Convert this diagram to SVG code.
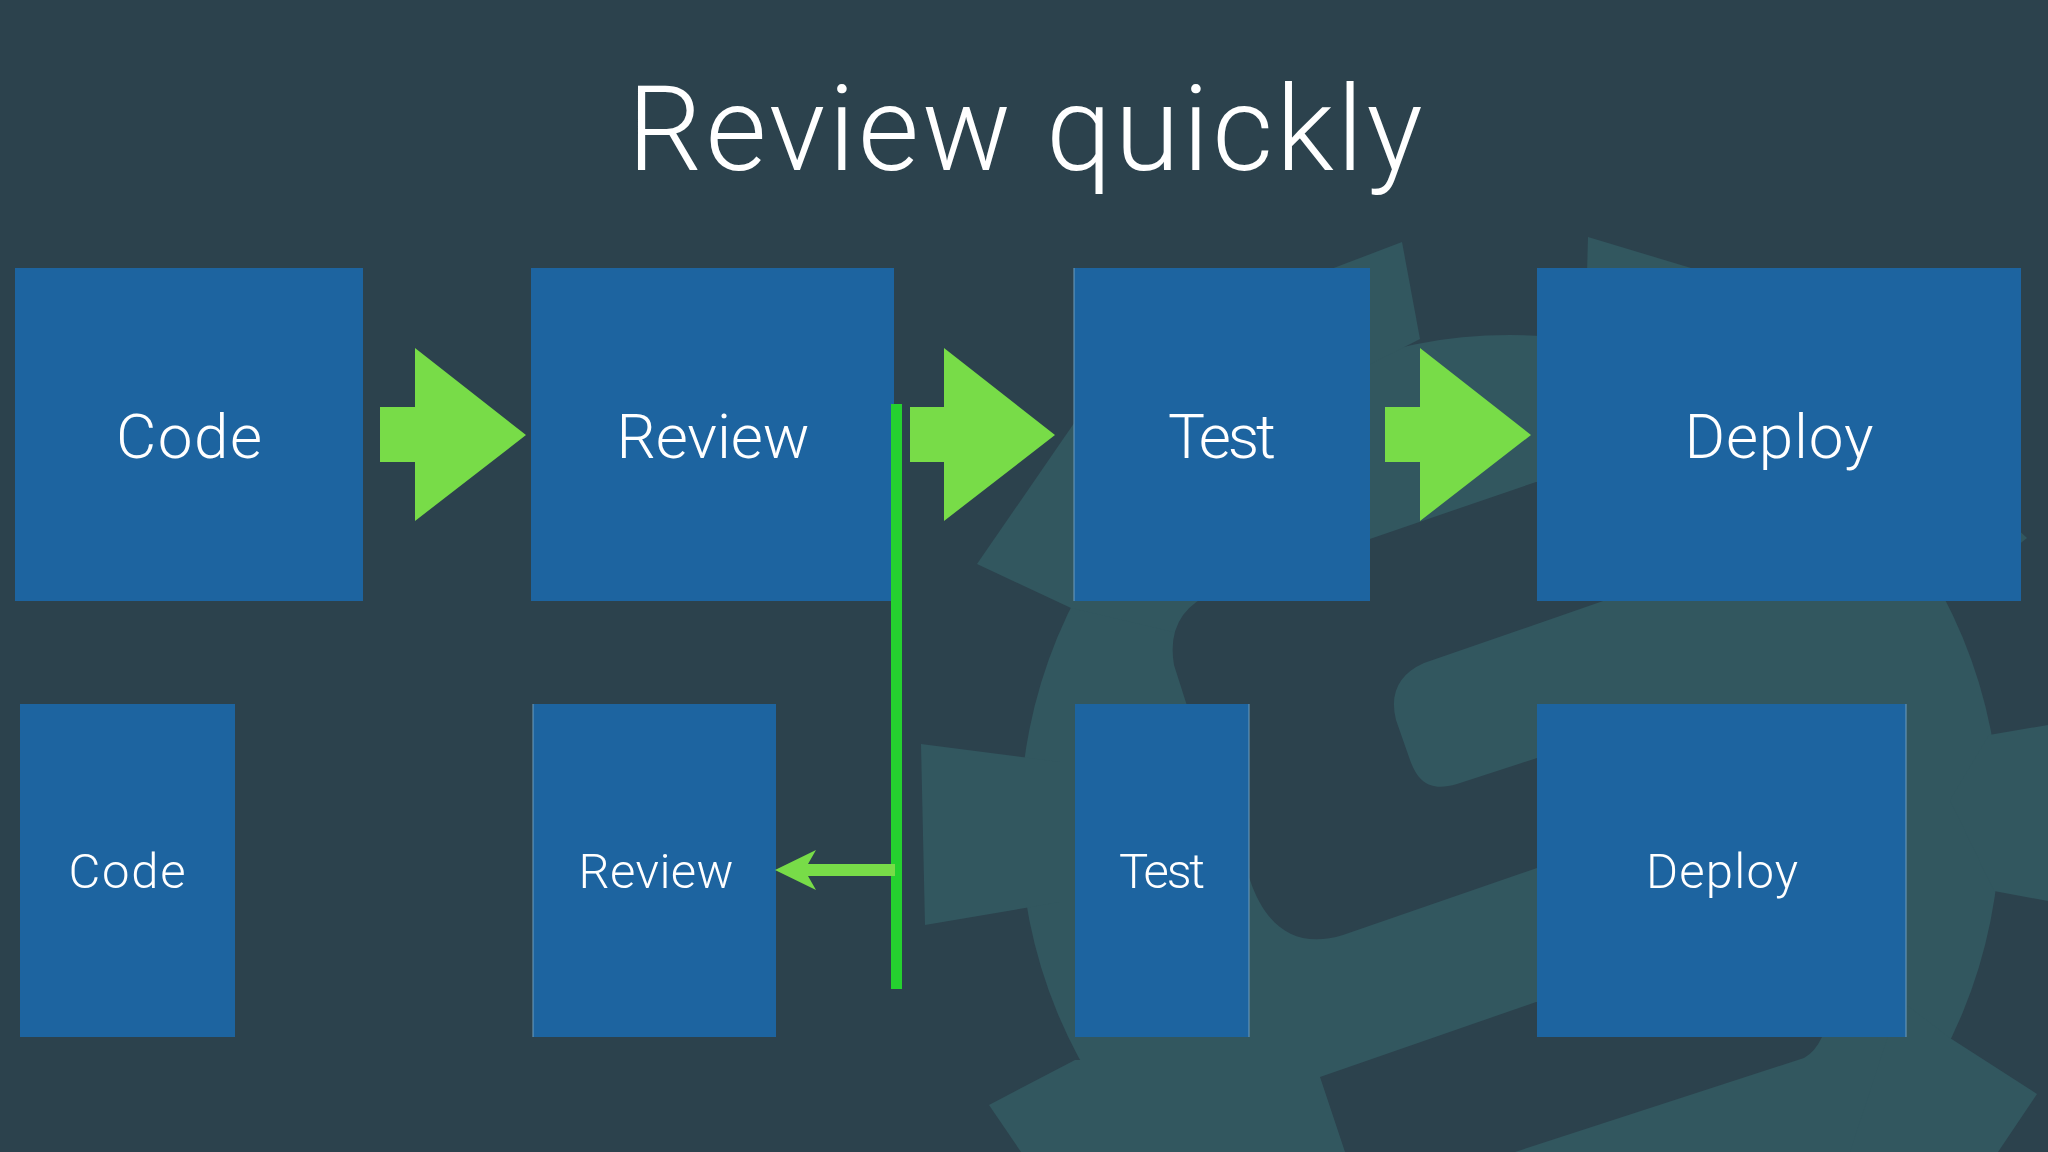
<svg xmlns="http://www.w3.org/2000/svg" width="2048" height="1152" viewBox="0 0 2048 1152">
<style>
.bg{fill:#2c424d}.gear{fill:#32575f}.hole{fill:#2c424d}
.box{fill:#1d64a0}
.arrow{fill:#78dc48}
.edge{stroke:#6f9dbd;stroke-width:1;fill:none}
text{font-family:"Roboto","Liberation Sans",sans-serif;font-weight:300;fill:#fff;text-anchor:middle}
.t1{font-size:62px}.t2{font-size:49px}
</style>
<rect class="bg" width="2048" height="1152"/>
<g id="gear-background">
<circle class="gear" cx="1510" cy="825" r="490"/>
<polygon class="gear" points="1402,242 1420,339 1300,400 1250,300"/>
<polygon class="gear" points="1588,237 1691,268 1800,340 1585,345"/>
<polygon class="gear" points="977,564 1090,400 1250,400 1250,650 1071,608"/>
<polygon class="gear" points="921,744 1060,762 1060,902 925,925"/>
<polygon class="gear" points="989,1105 1075,1060 1200,1060 1200,1152 1021,1152"/>
<polygon class="gear" points="1950,1038 2037,1094 1998,1152 1850,1152 1900,1000"/>
<polygon class="gear" points="1989,735 2048,725 2048,901 1994,891 1950,800"/>
<polygon class="gear" points="2027,538 1947,601 1880,560 1900,420"/>
<path class="hole" d="M1536,482 L1215,592 Q1165,612 1174,665 L1189,712 L1250,880 C1265,925 1295,950 1343,935 L1537,868 L1700,810 L1537,758 L1457,784 C1430,792 1418,782 1410,760 L1396,720 Q1386,680 1424,663 L1606,600 L1700,480 Z"/>
<path class="hole" d="M1320,1077 L1536,1002 L1822,1037 Q1815,1052 1804,1058 L1515,1152 L1345,1152 Z"/>
</g>
<g id="title"><text x="1025" y="170" font-size="118" textLength="795">Review quickly</text></g>
<g id="top-code"><rect class="box" x="15" y="268" width="348" height="333"/><text class="t1" x="189" y="458" textLength="146">Code</text></g>
<g id="top-review"><rect class="box" x="531" y="268" width="363" height="333"/><text class="t1" x="713" y="458" textLength="193">Review</text></g>
<g id="top-test"><rect class="box" x="1074" y="268" width="296" height="333"/><line class="edge" x1="1074" y1="268" x2="1074" y2="601"/><text class="t1" x="1222" y="458" textLength="108">Test</text></g>
<g id="top-deploy"><rect class="box" x="1537" y="268" width="484" height="333"/><text class="t1" x="1779" y="458" textLength="189">Deploy</text></g>
<g id="bottom-code"><rect class="box" x="20" y="704" width="215" height="333"/><text class="t2" x="127" y="888" textLength="117">Code</text></g>
<g id="bottom-review"><rect class="box" x="533" y="704" width="243" height="333"/><line class="edge" x1="533" y1="704" x2="533" y2="1037"/><text class="t2" x="656" y="888" textLength="155">Review</text></g>
<g id="bottom-test"><rect class="box" x="1075" y="704" width="174" height="333"/><line class="edge" x1="1249" y1="704" x2="1249" y2="1037"/><text class="t2" x="1162" y="888" textLength="86">Test</text></g>
<g id="bottom-deploy"><rect class="box" x="1537" y="704" width="369" height="333"/><line class="edge" x1="1906" y1="704" x2="1906" y2="1037"/><text class="t2" x="1722" y="888" textLength="152">Deploy</text></g>
<g id="connectors">
<rect id="gate-bar" x="891" y="404" width="11" height="585" fill="#25d12f"/>
<polygon id="arrow-code-review" class="arrow" points="380,407 415,407 415,348 526,435 415,521 415,462 380,462"/>
<polygon id="arrow-review-test" class="arrow" points="910,407 944,407 944,348 1055,435 944,521 944,462 910,462"/>
<polygon id="arrow-test-deploy" class="arrow" points="1385,407 1420,407 1420,348 1531,435 1420,521 1420,462 1385,462"/>
<polygon id="arrow-gate-review" class="arrow" points="895,864 808,864 816,850 775,870 816,890 808,876 895,876"/>
</g>
</svg>
